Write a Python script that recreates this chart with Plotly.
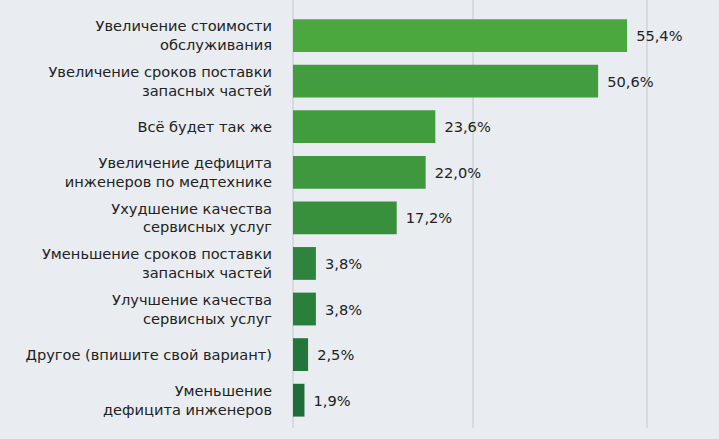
import plotly.graph_objects as go

categories = [
    "Увеличение стоимости<br>обслуживания",
    "Увеличение сроков поставки<br>запасных частей",
    "Всё будет так же",
    "Увеличение дефицита<br>инженеров по медтехнике",
    "Ухудшение качества<br>сервисных услуг",
    "Уменьшение сроков поставки<br>запасных частей",
    "Улучшение качества<br>сервисных услуг",
    "Другое (впишите свой вариант)",
    "Уменьшение<br>дефицита инженеров",
]
values = [55.4, 50.6, 23.6, 22.0, 17.2, 3.8, 3.8, 2.5, 1.9]
colors = ["#4aa83e", "#429d3e", "#419c3e", "#3f983e", "#38903d",
          "#2e843c", "#2a7f3b", "#23753a", "#1e6e3a"]
grid_vals = [0, 29.85, 58.7]

FONT = "DejaVu Sans"
FS = 14.6

fig = go.Figure(go.Bar(
    y=categories,
    x=values,
    orientation="h",
    marker=dict(color=colors, line=dict(width=0)),
    texttemplate="\u00a0\u200a%{x:.1f}%",
    textposition="outside",
    textfont=dict(family=FONT, size=FS, color="#222222"),
    cliponaxis=False,
    constraintext="none",
    width=0.72,
    hoverinfo="skip",
))

fig.update_layout(
    width=719, height=439,
    margin=dict(l=293, r=0, t=0, b=11),
    paper_bgcolor="#e9edf1",
    plot_bgcolor="#e9edf1",
    separators=", ",
    showlegend=False,
    font=dict(family=FONT, size=FS, color="#222222"),
    xaxis=dict(
        range=[0, 426 / 6.03],
        tickvals=grid_vals,
        showticklabels=False,
        showgrid=True,
        gridcolor="#d6dadf",
        gridwidth=1.5,
        zeroline=True,
        zerolinecolor="#d6dadf",
        zerolinewidth=1.5,
        fixedrange=True,
    ),
    yaxis=dict(
        categoryorder="array",
        categoryarray=categories,
        range=[8.61, -0.78],
        showgrid=False,
        zeroline=False,
        ticks="",
        ticklabelstandoff=20,
        tickfont=dict(family=FONT, size=FS, color="#222222"),
        fixedrange=True,
    ),
)

fig.write_html("out.html")
